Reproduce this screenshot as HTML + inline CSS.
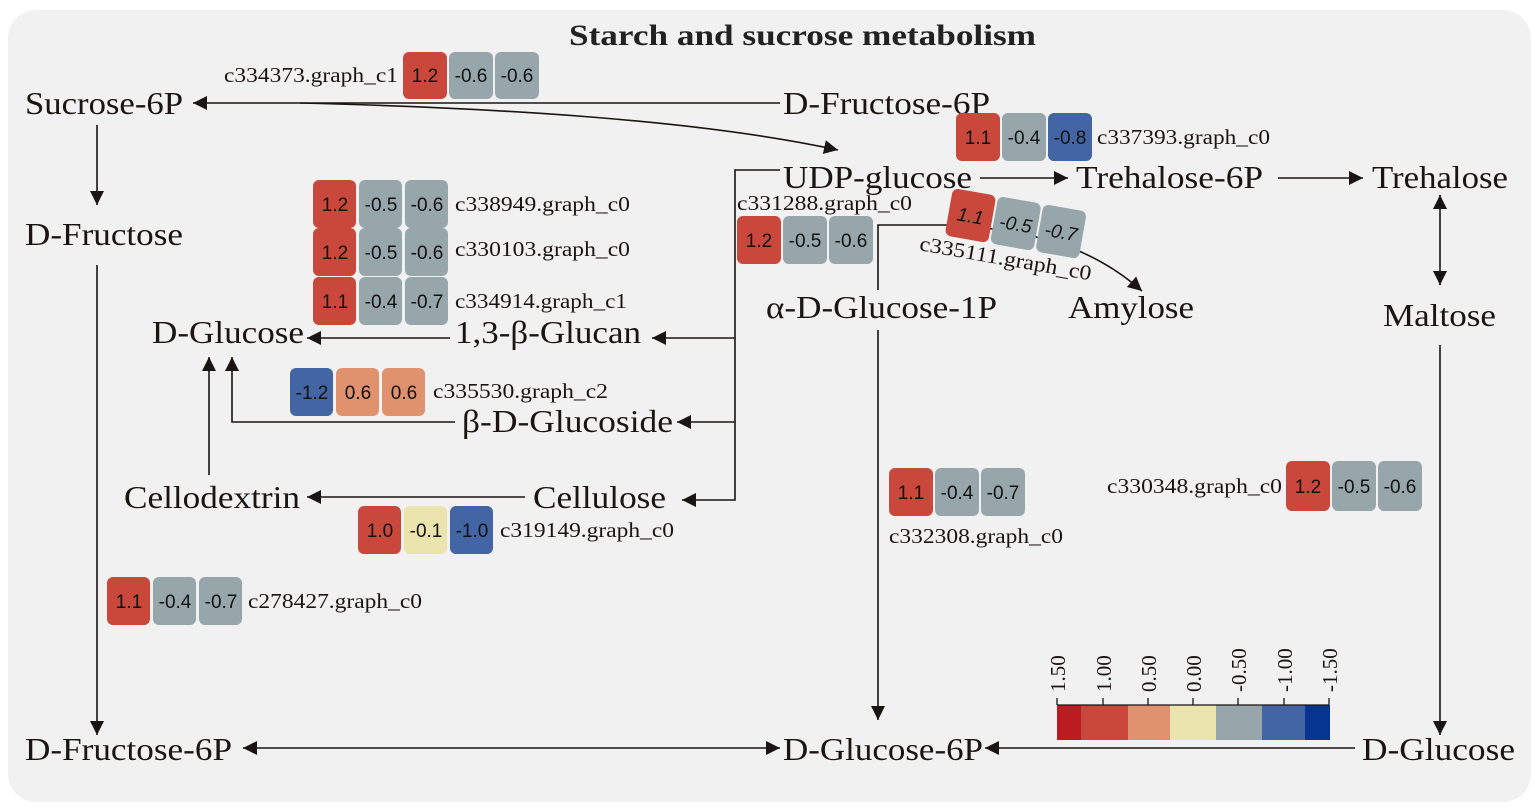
<!DOCTYPE html>
<html><head><meta charset="utf-8"><style>
body{margin:0;background:#fff;width:1535px;height:812px;overflow:hidden}
svg{display:block}
.n{font-family:"Liberation Serif",serif;font-size:32px;fill:#1a1513}
.g{font-family:"Liberation Serif",serif;font-size:21px;fill:#1a1513}
.v{font-family:"Liberation Sans",sans-serif;font-size:19px;fill:#111;text-anchor:middle}
.l{stroke:#1a1513;stroke-width:1.6;fill:none}
.t{font-family:"Liberation Serif",serif;font-size:21px;fill:#1a1513}
</style></head><body>
<svg width="1535" height="812" viewBox="0 0 1535 812">
<defs>
<marker id="b" viewBox="0 0 10 10" markerWidth="14" markerHeight="14" refX="10" refY="5" orient="auto-start-reverse" markerUnits="userSpaceOnUse"><path d="M0,0 L10,5 L0,10 Z" fill="#1a1513"/></marker></defs>
<rect x="8" y="10" width="1523" height="792" rx="28" fill="#f1f1f1"/>
<text x="569" y="45" textLength="467" lengthAdjust="spacingAndGlyphs" style="font-family:'Liberation Serif',serif;font-size:30px;font-weight:bold" fill="#222">Starch and sucrose metabolism</text>

<!-- node labels -->
<g class="n">
<text x="25" y="114" textLength="158" lengthAdjust="spacingAndGlyphs">Sucrose-6P</text>
<text x="783" y="114" textLength="207" lengthAdjust="spacingAndGlyphs">D-Fructose-6P</text>
<text x="783" y="188" textLength="189" lengthAdjust="spacingAndGlyphs">UDP-glucose</text>
<text x="1076" y="188" textLength="187" lengthAdjust="spacingAndGlyphs">Trehalose-6P</text>
<text x="1372" y="188" textLength="136" lengthAdjust="spacingAndGlyphs">Trehalose</text>
<text x="25" y="245" textLength="158" lengthAdjust="spacingAndGlyphs">D-Fructose</text>
<text x="152" y="343" textLength="152" lengthAdjust="spacingAndGlyphs">D-Glucose</text>
<text x="455" y="343" textLength="186" lengthAdjust="spacingAndGlyphs">1,3-β-Glucan</text>
<text x="766" y="318" textLength="231" lengthAdjust="spacingAndGlyphs">α-D-Glucose-1P</text>
<text x="1068" y="318" textLength="126" lengthAdjust="spacingAndGlyphs">Amylose</text>
<text x="1383" y="326" textLength="113" lengthAdjust="spacingAndGlyphs">Maltose</text>
<text x="462" y="432" textLength="211" lengthAdjust="spacingAndGlyphs">β-D-Glucoside</text>
<text x="124" y="508" textLength="176" lengthAdjust="spacingAndGlyphs">Cellodextrin</text>
<text x="533" y="508" textLength="133" lengthAdjust="spacingAndGlyphs">Cellulose</text>
<text x="25" y="760" textLength="207" lengthAdjust="spacingAndGlyphs">D-Fructose-6P</text>
<text x="783" y="760" textLength="200" lengthAdjust="spacingAndGlyphs">D-Glucose-6P</text>
<text x="1362" y="760" textLength="153" lengthAdjust="spacingAndGlyphs">D-Glucose</text>
</g>

<!-- connectors -->
<g class="l">
<path d="M780 103 H193" marker-end="url(#b)"/>
<path d="M300 103 C500 108 700 120 838 150" marker-end="url(#b)"/>
<path d="M97 125 V205" marker-end="url(#b)"/>
<path d="M97 265 V735" marker-end="url(#b)"/>
<path d="M243 748 H780" marker-start="url(#b)" marker-end="url(#b)"/>
<path d="M1355 748 H985" marker-end="url(#b)"/>
<path d="M1440 345 V735" marker-end="url(#b)"/>
<path d="M1440 195 V285" marker-start="url(#b)" marker-end="url(#b)"/>
<path d="M980 178 H1068" marker-end="url(#b)"/>
<path d="M1278 178 H1363" marker-end="url(#b)"/>
<path d="M780 170 H735 V500 H682" marker-end="url(#b)"/>
<path d="M735 338 H652" marker-end="url(#b)"/>
<path d="M735 422 H677" marker-end="url(#b)"/>
<path d="M450 338 H307" marker-end="url(#b)"/>
<path d="M455 422 H232 V357" marker-end="url(#b)"/>
<path d="M209 475 V357" marker-end="url(#b)"/>
<path d="M525 497 H307" marker-end="url(#b)"/>
<path d="M878 290 V225 H950 C1030 230 1090 245 1142 291" marker-end="url(#b)"/>
<path d="M878 330 V720" marker-end="url(#b)"/>
</g>

<!-- expression boxes -->
<g>
<rect x="403" y="52" width="44" height="47" rx="6" fill="#c9483b"/><rect x="449" y="52" width="44" height="47" rx="6" fill="#97a6aa"/><rect x="495" y="52" width="44" height="47" rx="6" fill="#97a6aa"/>
<text class="v" x="425" y="82">1.2</text><text class="v" x="471" y="82">-0.6</text><text class="v" x="517" y="82">-0.6</text>
<text class="g" x="224" y="82" textLength="174" lengthAdjust="spacingAndGlyphs">c334373.graph_c1</text>

<rect x="956" y="113" width="44" height="48" rx="6" fill="#c9483b"/><rect x="1002" y="113" width="44" height="48" rx="6" fill="#97a6aa"/><rect x="1048" y="113" width="44" height="48" rx="6" fill="#4365a3"/>
<text class="v" x="978" y="144">1.1</text><text class="v" x="1024" y="144">-0.4</text><text class="v" x="1070" y="144">-0.8</text>
<text class="g" x="1097" y="144" textLength="173" lengthAdjust="spacingAndGlyphs">c337393.graph_c0</text>

<rect x="313" y="180" width="43" height="48" rx="6" fill="#c9483b"/><rect x="359" y="180" width="43" height="48" rx="6" fill="#97a6aa"/><rect x="405" y="180" width="43" height="48" rx="6" fill="#97a6aa"/>
<text class="v" x="335" y="211">1.2</text><text class="v" x="381" y="211">-0.5</text><text class="v" x="427" y="211">-0.6</text>
<text class="g" x="455" y="211" textLength="175" lengthAdjust="spacingAndGlyphs">c338949.graph_c0</text>
<rect x="313" y="228" width="43" height="48" rx="6" fill="#c9483b"/><rect x="359" y="228" width="43" height="48" rx="6" fill="#97a6aa"/><rect x="405" y="228" width="43" height="48" rx="6" fill="#97a6aa"/>
<text class="v" x="335" y="259">1.2</text><text class="v" x="381" y="259">-0.5</text><text class="v" x="427" y="259">-0.6</text>
<text class="g" x="455" y="256" textLength="175" lengthAdjust="spacingAndGlyphs">c330103.graph_c0</text>
<rect x="313" y="277" width="43" height="48" rx="6" fill="#c9483b"/><rect x="359" y="277" width="43" height="48" rx="6" fill="#97a6aa"/><rect x="405" y="277" width="43" height="48" rx="6" fill="#97a6aa"/>
<text class="v" x="335" y="308">1.1</text><text class="v" x="381" y="308">-0.4</text><text class="v" x="427" y="308">-0.7</text>
<text class="g" x="455" y="308" textLength="172" lengthAdjust="spacingAndGlyphs">c334914.graph_c1</text>

<rect x="737" y="216" width="44" height="48" rx="6" fill="#c9483b"/><rect x="783" y="216" width="44" height="48" rx="6" fill="#97a6aa"/><rect x="829" y="216" width="44" height="48" rx="6" fill="#97a6aa"/>
<text class="v" x="759" y="247">1.2</text><text class="v" x="805" y="247">-0.5</text><text class="v" x="851" y="247">-0.6</text>
<text class="g" x="737" y="210" textLength="175" lengthAdjust="spacingAndGlyphs">c331288.graph_c0</text>

<g transform="rotate(10 990 220)">
<rect x="948" y="195" width="44" height="48" rx="6" fill="#c9483b"/><rect x="994" y="195" width="44" height="48" rx="6" fill="#97a6aa"/><rect x="1040" y="195" width="44" height="48" rx="6" fill="#97a6aa"/>
<text class="v" x="970" y="226" font-style="italic">1.1</text><text class="v" x="1016" y="226" font-style="italic">-0.5</text><text class="v" x="1062" y="226" font-style="italic">-0.7</text>
<text class="g" x="925" y="262" textLength="174" lengthAdjust="spacingAndGlyphs">c335111.graph_c0</text>
</g>

<rect x="290" y="368" width="43" height="48" rx="6" fill="#4365a3"/><rect x="336" y="368" width="43" height="48" rx="6" fill="#e0926f"/><rect x="382" y="368" width="43" height="48" rx="6" fill="#e0926f"/>
<text class="v" x="312" y="399">-1.2</text><text class="v" x="358" y="399">0.6</text><text class="v" x="404" y="399">0.6</text>
<text class="g" x="433" y="398" textLength="175" lengthAdjust="spacingAndGlyphs">c335530.graph_c2</text>

<rect x="358" y="506" width="43" height="48" rx="6" fill="#c9483b"/><rect x="404" y="506" width="43" height="48" rx="6" fill="#ebe4ad"/><rect x="450" y="506" width="43" height="48" rx="6" fill="#4365a3"/>
<text class="v" x="380" y="537">1.0</text><text class="v" x="426" y="537">-0.1</text><text class="v" x="472" y="537">-1.0</text>
<text class="g" x="500" y="537" textLength="174" lengthAdjust="spacingAndGlyphs">c319149.graph_c0</text>

<rect x="889" y="468" width="44" height="48" rx="6" fill="#c9483b"/><rect x="935" y="468" width="44" height="48" rx="6" fill="#97a6aa"/><rect x="981" y="468" width="44" height="48" rx="6" fill="#97a6aa"/>
<text class="v" x="911" y="499">1.1</text><text class="v" x="957" y="499">-0.4</text><text class="v" x="1003" y="499">-0.7</text>
<text class="g" x="889" y="543" textLength="174" lengthAdjust="spacingAndGlyphs">c332308.graph_c0</text>

<rect x="1286" y="461" width="44" height="50" rx="6" fill="#c9483b"/><rect x="1332" y="461" width="44" height="50" rx="6" fill="#97a6aa"/><rect x="1378" y="461" width="44" height="50" rx="6" fill="#97a6aa"/>
<text class="v" x="1308" y="493">1.2</text><text class="v" x="1354" y="493">-0.5</text><text class="v" x="1400" y="493">-0.6</text>
<text class="g" x="1107" y="493" textLength="175" lengthAdjust="spacingAndGlyphs">c330348.graph_c0</text>

<rect x="107" y="577" width="43" height="48" rx="6" fill="#c9483b"/><rect x="153" y="577" width="43" height="48" rx="6" fill="#97a6aa"/><rect x="199" y="577" width="43" height="48" rx="6" fill="#97a6aa"/>
<text class="v" x="129" y="608">1.1</text><text class="v" x="175" y="608">-0.4</text><text class="v" x="221" y="608">-0.7</text>
<text class="g" x="248" y="608" textLength="174" lengthAdjust="spacingAndGlyphs">c278427.graph_c0</text>
</g>

<!-- legend -->
<rect x="1057" y="705" width="24" height="35" fill="#bb1c22"/>
<rect x="1081" y="705" width="47" height="35" fill="#c9483b"/>
<rect x="1128" y="705" width="42" height="35" fill="#e0926f"/>
<rect x="1170" y="705" width="46" height="35" fill="#ebe4ad"/>
<rect x="1216" y="705" width="46" height="35" fill="#97a6aa"/>
<rect x="1262" y="705" width="43" height="35" fill="#4365a3"/>
<rect x="1305" y="705" width="25" height="35" fill="#063591"/>
<g class="l" style="stroke-width:1.3"><path d="M1057 705 H1329 M1057 698 V705 M1103 698 V705 M1148 698 V705 M1193 698 V705 M1238 698 V705 M1284 698 V705 M1329 698 V705"/></g>
<g class="t">
<text transform="translate(1065 692) rotate(-90)">1.50</text>
<text transform="translate(1111 692) rotate(-90)">1.00</text>
<text transform="translate(1156 692) rotate(-90)">0.50</text>
<text transform="translate(1201 692) rotate(-90)">0.00</text>
<text transform="translate(1246 692) rotate(-90)">-0.50</text>
<text transform="translate(1292 692) rotate(-90)">-1.00</text>
<text transform="translate(1337 692) rotate(-90)">-1.50</text>
</g>
</svg>
</body></html>
